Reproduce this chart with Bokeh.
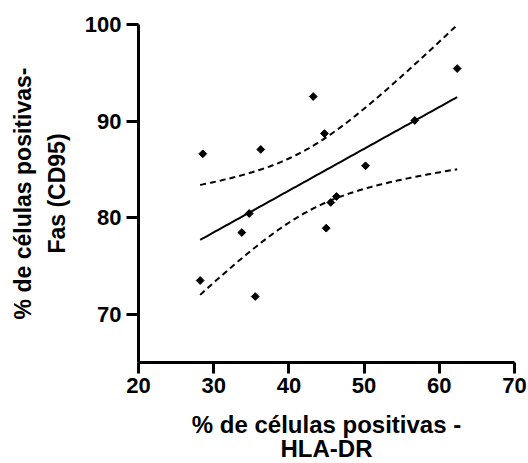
import numpy as np
from bokeh.plotting import figure
from bokeh.models import Range1d, FixedTicker
from bokeh.embed import file_html
from bokeh.resources import INLINE

# Data
hla_dr = [28.2, 28.55, 33.74, 34.72, 35.52, 36.26, 43.23, 44.73, 44.96, 45.57, 46.33, 50.19, 56.74, 62.38]
fas_cd95 = [73.49, 86.61, 78.46, 80.43, 71.83, 87.06, 92.54, 88.71, 78.91, 81.57, 82.19, 85.37, 90.06, 95.44]
x_ticks = [20, 30, 40, 50, 60, 70]
y_ticks = [70, 80, 90, 100]
x_label_lines = ["% de células positivas -", "HLA-DR"]
y_label_lines = ["% de células positivas-", "Fas (CD95)"]
t_crit = 2.179  # t(0.975, df=12)

FONT = "Liberation Sans"

x = np.array(hla_dr)
y = np.array(fas_cd95)
n = len(x)
slope, intercept = np.polyfit(x, y, 1)
resid = y - (slope * x + intercept)
s = np.sqrt(np.sum(resid ** 2) / (n - 2))
sxx = np.sum((x - x.mean()) ** 2)
xg = np.linspace(x.min(), x.max(), 100)
yg = slope * xg + intercept
half = t_crit * s * np.sqrt(1.0 / n + (xg - x.mean()) ** 2 / sxx)

p = figure(width=528, height=463, frame_width=376, frame_height=338,
           x_range=Range1d(20, 70), y_range=Range1d(65, 100),
           output_backend="svg", toolbar_location=None,
           min_border_left=138, min_border_right=14,
           min_border_top=24, min_border_bottom=101)
p.outline_line_color = None
p.grid.visible = False
p.background_fill_color = "white"
p.border_fill_color = "white"

for ax in (p.xaxis[0], p.yaxis[0]):
    ax.axis_line_width = 3
    ax.axis_line_color = "black"
    ax.major_tick_line_width = 3
    ax.major_tick_line_color = "black"
    ax.major_tick_in = 0
    ax.minor_tick_line_color = None
    ax.major_label_text_font = FONT
    ax.major_label_text_font_style = "bold"
    ax.major_label_text_font_size = "22px"
    ax.major_label_text_color = "black"
    ax.axis_label_text_font = FONT
    ax.axis_label_text_font_style = "bold"
    ax.axis_label_text_color = "black"

p.xaxis.ticker = FixedTicker(ticks=x_ticks)
p.yaxis.ticker = FixedTicker(ticks=y_ticks)
p.xaxis.major_tick_out = 11
p.yaxis.major_tick_out = 12
p.xaxis.major_label_standoff = 4
p.yaxis.major_label_standoff = 5

p.xaxis.axis_label = "\n".join(x_label_lines)
p.xaxis.axis_label_text_font_size = "24px"
p.xaxis.axis_label_text_line_height = 0.9
p.xaxis.axis_label_standoff = 15
p.yaxis.axis_label = "\n".join(y_label_lines)
p.yaxis.axis_label_text_font_size = "23px"
p.yaxis.axis_label_text_line_height = 1.3
p.yaxis.axis_label_standoff = 12

p.line(xg, yg, line_color="black", line_width=2)
p.line(xg, yg + half, line_color="black", line_width=2, line_dash="6 4")
p.line(xg, yg - half, line_color="black", line_width=2, line_dash="6 4")
p.scatter(x, y, marker="square", angle=np.pi / 4, size=5.5,
          fill_color="black", line_color="black")

open("out.html", "w").write(file_html(p, INLINE))
